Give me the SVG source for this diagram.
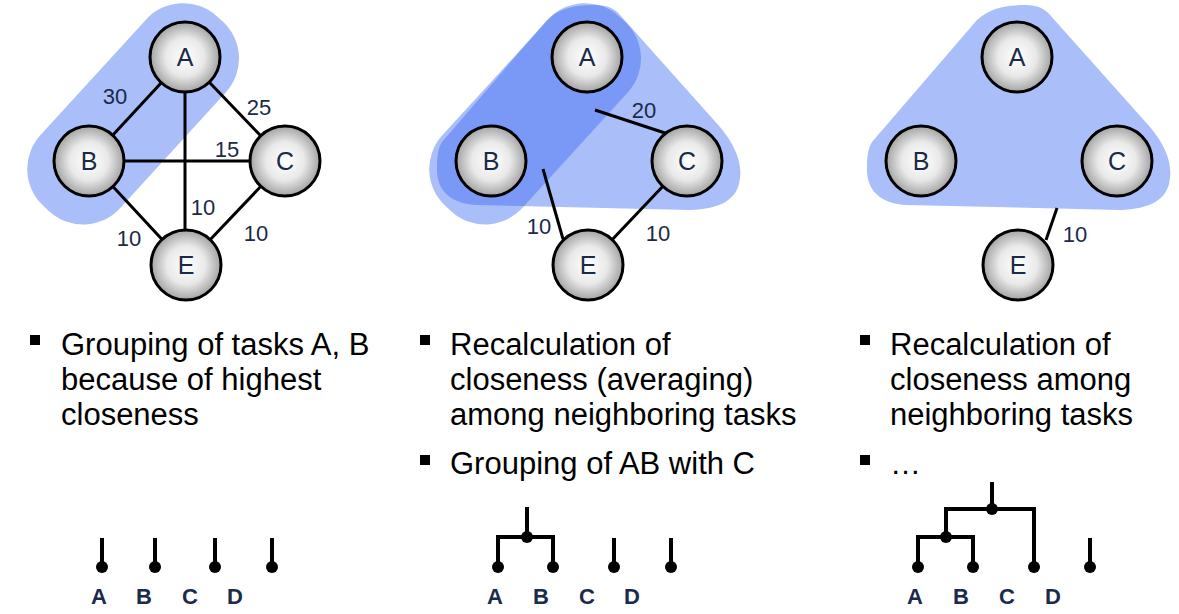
<svg xmlns="http://www.w3.org/2000/svg" width="1179" height="614" viewBox="0 0 1179 614">
<defs>
<radialGradient id="ng" cx="0.5" cy="0.5" r="0.5">
<stop offset="0" stop-color="#ffffff"/>
<stop offset="0.55" stop-color="#e9e9e9"/>
<stop offset="1" stop-color="#a3a3a3"/>
</radialGradient>
<path id="tri" d="M 977 20 C 990 8, 1005 5, 1025 5 C 1038 5, 1045 9, 1050 15 L 1150 127 C 1165 145, 1172 162, 1170 178 C 1168 200, 1150 209, 1120 210 L 907 205 C 880 204, 866 190, 867 167 C 867 157, 868 148, 872 142 Z"/>
<rect id="cap" x="-135" y="-54" width="257" height="108" rx="50"/>
</defs>
<style>
.hl{fill:#3c6af3;fill-opacity:0.435}
.node circle{fill:url(#ng);stroke:#000;stroke-width:3}
.node text{font-family:"Liberation Sans",Arial,sans-serif;font-size:25px;fill:#1b2a47;text-anchor:middle}
.edge{stroke:#000;stroke-width:3;fill:none}
.el{font-family:"Liberation Sans",Arial,sans-serif;font-size:22px;fill:#1b2a47;text-anchor:middle}
.bt{font-family:"Liberation Sans",Arial,sans-serif;font-size:31px;fill:#000}
.bl{fill:#000}
.dl{stroke:#000;stroke-width:4;fill:none}
.dd{fill:#000}
.dt{font-family:"Liberation Sans",Arial,sans-serif;font-size:22px;font-weight:bold;fill:#1b2b4b;text-anchor:middle}
</style>

<!-- highlights -->
<g id="highlights">
<use href="#cap" class="hl" transform="translate(137.5,109) rotate(-47.6)"/>
<use href="#tri" class="hl" transform="translate(-430,0)"/>
<use href="#cap" class="hl" transform="translate(539.5,109) rotate(-47.6)"/>
<use href="#tri" class="hl"/>
</g>

<!-- connectors -->
<g id="connectors">
<line class="edge" x1="161.3" y1="82.7" x2="112.7" y2="135.3"/>
<line class="edge" x1="209.3" y1="82.2" x2="260.7" y2="135.8"/>
<line class="edge" x1="185" y1="92" x2="185" y2="230"/>
<line class="edge" x1="124" y1="161" x2="250" y2="161"/>
<line class="edge" x1="112.9" y1="186.6" x2="162.1" y2="239.4"/>
<line class="edge" x1="260.9" y1="186.3" x2="210.1" y2="239.7"/>
<line class="edge" x1="595" y1="110" x2="665" y2="133"/>
<line class="edge" x1="543" y1="169" x2="563" y2="239"/>
<line class="edge" x1="662.9" y1="186.3" x2="612.1" y2="239.7"/>
<line class="edge" x1="1057" y1="208" x2="1046" y2="240"/>
<text class="el" x="115" y="104">30</text>
<text class="el" x="259" y="115">25</text>
<text class="el" x="227" y="157">15</text>
<text class="el" x="203" y="215">10</text>
<text class="el" x="129" y="246">10</text>
<text class="el" x="256" y="241">10</text>
<text class="el" x="644" y="118">20</text>
<text class="el" x="539" y="234">10</text>
<text class="el" x="658" y="241">10</text>
<text class="el" x="1075" y="242">10</text>
</g>

<!-- panel 1 nodes -->
<g id="p1-A" class="node"><circle cx="185" cy="57" r="35"/><text x="185" y="66">A</text></g>
<g id="p1-B" class="node"><circle cx="89" cy="161" r="35"/><text x="89" y="170">B</text></g>
<g id="p1-C" class="node"><circle cx="285" cy="161" r="35"/><text x="285" y="170">C</text></g>
<g id="p1-E" class="node"><circle cx="186" cy="265" r="35"/><text x="186" y="274">E</text></g>
<!-- panel 2 nodes -->
<g id="p2-A" class="node"><circle cx="587" cy="57" r="35"/><text x="587" y="66">A</text></g>
<g id="p2-B" class="node"><circle cx="491" cy="161" r="35"/><text x="491" y="170">B</text></g>
<g id="p2-C" class="node"><circle cx="687" cy="161" r="35"/><text x="687" y="170">C</text></g>
<g id="p2-E" class="node"><circle cx="588" cy="265" r="35"/><text x="588" y="274">E</text></g>
<!-- panel 3 nodes -->
<g id="p3-A" class="node"><circle cx="1017" cy="57" r="35"/><text x="1017" y="66">A</text></g>
<g id="p3-B" class="node"><circle cx="921" cy="161" r="35"/><text x="921" y="170">B</text></g>
<g id="p3-C" class="node"><circle cx="1117" cy="161" r="35"/><text x="1117" y="170">C</text></g>
<g id="p3-E" class="node"><circle cx="1018" cy="265" r="35"/><text x="1018" y="274">E</text></g>

<!-- bullet texts -->
<g id="text1">
<rect class="bl" x="30" y="335" width="10" height="10"/>
<text class="bt" x="61" y="355">Grouping of tasks A, B</text>
<text class="bt" x="61" y="390">because of highest</text>
<text class="bt" x="61" y="425">closeness</text>
</g>
<g id="text2">
<rect class="bl" x="420" y="335" width="10" height="10"/>
<text class="bt" x="450" y="355">Recalculation of</text>
<text class="bt" x="450" y="390">closeness (averaging)</text>
<text class="bt" x="450" y="425">among neighboring tasks</text>
<rect class="bl" x="420" y="455" width="10" height="10"/>
<text class="bt" x="450" y="474">Grouping of AB with C</text>
</g>
<g id="text3">
<rect class="bl" x="860" y="335" width="10" height="10"/>
<text class="bt" x="890" y="355">Recalculation of</text>
<text class="bt" x="890" y="390">closeness among</text>
<text class="bt" x="890" y="425">neighboring tasks</text>
<rect class="bl" x="860" y="455" width="10" height="10"/>
<text class="bt" x="890" y="474">…</text>
</g>

<!-- dendrogram 1 -->
<g id="dendro1">
<path class="dl" d="M102 538V567M155 538V567M215 538V567M272 538V567"/>
<circle class="dd" cx="102" cy="567" r="6"/><circle class="dd" cx="155" cy="567" r="6"/>
<circle class="dd" cx="215" cy="567" r="6"/><circle class="dd" cx="272" cy="567" r="6"/>
<text class="dt" x="99" y="604">A</text><text class="dt" x="144" y="604">B</text>
<text class="dt" x="190" y="604">C</text><text class="dt" x="235" y="604">D</text>
</g>
<!-- dendrogram 2 -->
<g id="dendro2">
<path class="dl" d="M498 567V537H553V567M527 537V507M614 538V567M671 538V567"/>
<circle class="dd" cx="498" cy="567" r="6"/><circle class="dd" cx="553" cy="567" r="6"/>
<circle class="dd" cx="527" cy="537" r="6"/>
<circle class="dd" cx="614" cy="567" r="6"/><circle class="dd" cx="671" cy="567" r="6"/>
<text class="dt" x="495" y="604">A</text><text class="dt" x="541" y="604">B</text>
<text class="dt" x="587" y="604">C</text><text class="dt" x="632" y="604">D</text>
</g>
<!-- dendrogram 3 -->
<g id="dendro3">
<path class="dl" d="M918 567V537H973V567M946 537V509H1034V567M992 509V482M1090 538V567"/>
<circle class="dd" cx="918" cy="567" r="6"/><circle class="dd" cx="973" cy="567" r="6"/>
<circle class="dd" cx="946" cy="537" r="6"/><circle class="dd" cx="992" cy="509" r="6"/>
<circle class="dd" cx="1034" cy="567" r="6"/><circle class="dd" cx="1090" cy="567" r="6"/>
<text class="dt" x="915" y="604">A</text><text class="dt" x="961" y="604">B</text>
<text class="dt" x="1007" y="604">C</text><text class="dt" x="1053" y="604">D</text>
</g>
</svg>
